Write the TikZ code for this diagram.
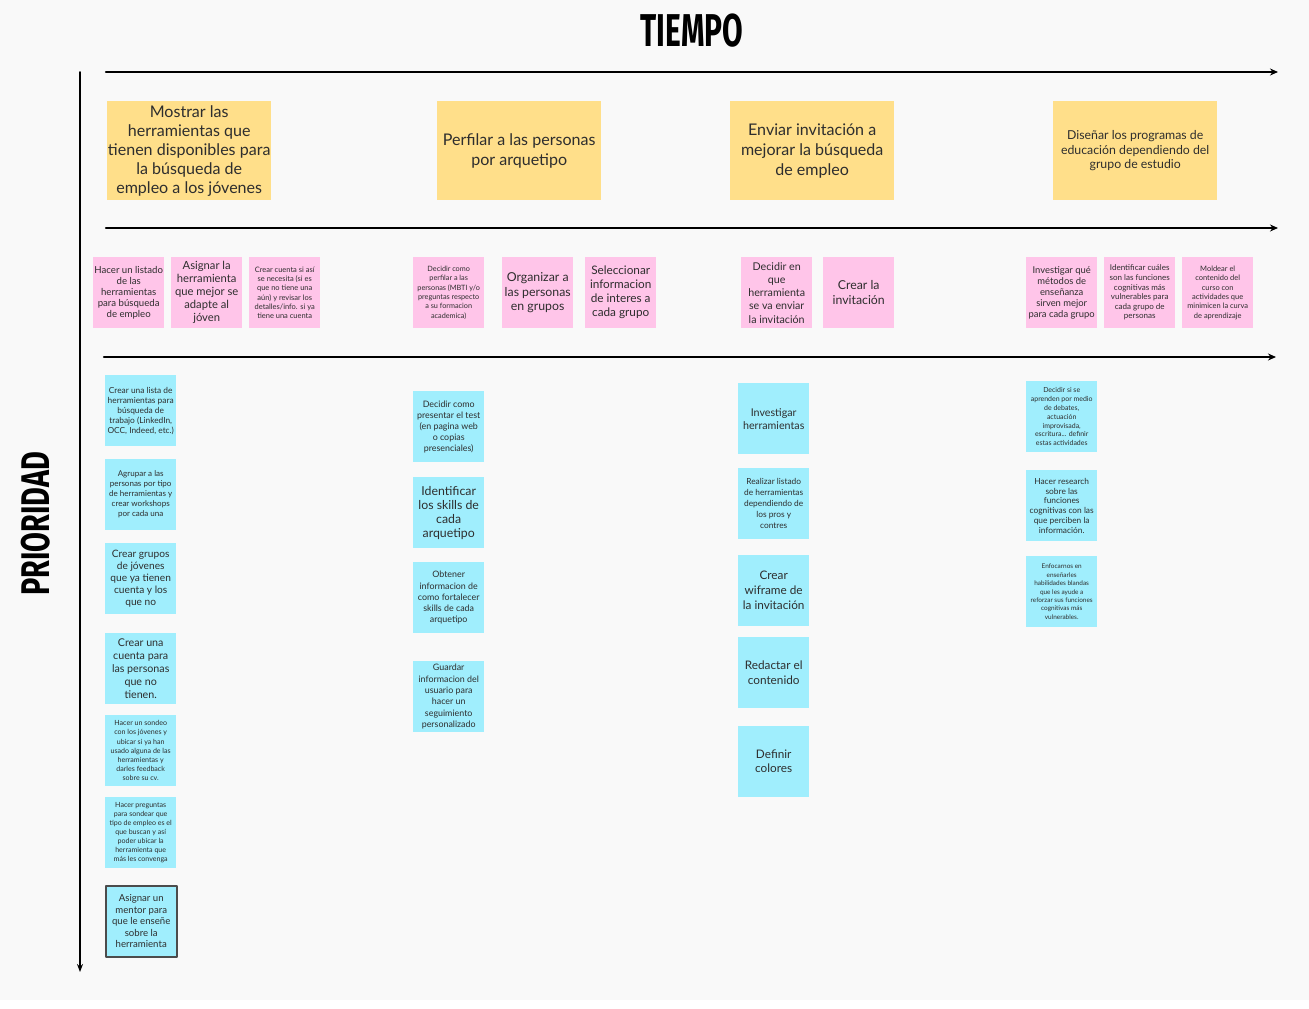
\documentclass[tikz,border=0pt]{standalone}
\usepackage{fontspec}
\setmainfont{Lato}[Scale=1.07]
\newfontfamily\titlefont{Fira Sans}
\usepackage{tikz}
\usetikzlibrary{positioning,calc,arrows.meta}

\definecolor{bgGray}{HTML}{F9F9F9}
\definecolor{noteYellow}{HTML}{FFDF8A}
\definecolor{notePink}{HTML}{FFC5E9}
\definecolor{noteBlue}{HTML}{A0EEFD}
\definecolor{txtGray}{HTML}{2E2E2E}

\begin{document}
\begin{tikzpicture}[
	x=1pt,y=-1pt,
	>=Stealth,
	line cap=round,line join=round,
	note/.style={inner sep=0pt, anchor=north west, align=center, text=txtGray,
		minimum width=71pt, minimum height=71pt},
	yNote/.style={note, fill=noteYellow, minimum width=164pt, minimum height=99pt},
	pNote/.style={note, fill=notePink},
	bNote/.style={note, fill=noteBlue},
	sz/.style 2 args={font=\fontsize{#1}{#2}\selectfont},
	axis/.style={->, line width=2.2pt, >={Stealth[length=8pt,width=7pt]}}
	]
	%----- page
	\useasboundingbox (0,0) rectangle (1309,1009);
	\fill[bgGray] (0,0) rectangle (1309,1000);
	
	%----- labels
	\node[font=\titlefont\bfseries\fontsize{46}{46}\selectfont] (tiempoLbl) at (692,31) {\scalebox{0.65}[1]{TIEMPO}};
	\node[font=\titlefont\bfseries\fontsize{40}{40}\selectfont, rotate=90] (prioLbl) at (36,524) {\scalebox{0.72}[1]{PRIORIDAD}};
	
	%----- axes
	\coordinate (t1s) at (106,72);  \coordinate (t1e) at (1278,72);
	\coordinate (t2s) at (106,228); \coordinate (t2e) at (1278,228);
	\coordinate (t3s) at (104,357); \coordinate (t3e) at (1276,357);
	\coordinate (pS)  at (80,72);   \coordinate (pE)  at (80,972);
	\draw[axis] (t1s) -- (t1e);
	\draw[axis] (t2s) -- (t2e);
	\draw[axis] (t3s) -- (t3e);
	\draw[->, line width=1.8pt, >={Stealth[length=8pt,width=6pt]}] (pS) -- (pE);
	
	%----- yellow row (goals)
	\node[yNote, sz={15}{19}] (y1) at (107,101) {Mostrar las\\herramientas que\\tienen disponibles para\\la búsqueda de\\empleo a los jóvenes};
	\node[yNote, sz={15}{20}] (y2) at (437,101) {Perfilar a las personas\\por arquetipo};
	\node[yNote, sz={15}{20}] (y3) at (730,101) {Enviar invitación a\\mejorar la búsqueda\\de empleo};
	\node[yNote, sz={11.5}{14.5}] (y4) at (1053,101) {Diseñar los programas de\\educación dependiendo del\\grupo de estudio};
	
	%----- pink row (tasks)
	\node[pNote, sz={9}{11}] (pA) at (93,257) {Hacer un listado\\de las\\herramientas\\para búsqueda\\de empleo};
	\node[pNote, sz={10.5}{13}] (pB) at (171,257) {Asignar la\\herramienta\\que mejor se\\adapte al\\jóven};
	\node[pNote, sz={7}{9.2}] (pC) at (249,257) {Crear cuenta si así\\se necesita (si es\\que no tiene una\\aún) y revisar los\\detalles/info. si ya\\tiene una cuenta};
	\node[pNote, sz={6.8}{9.4}] (pD) at (413,257) {Decidir como\\perfilar a las\\personas (MBTI y/o\\preguntas respecto\\a su formacion\\academica)};
	\node[pNote, sz={11.5}{14.5}] (pE) at (502,257) {Organizar a\\las personas\\en grupos};
	\node[pNote, sz={11}{14}] (pF) at (585,257) {Seleccionar\\informacion\\de interes a\\cada grupo};
	\node[pNote, sz={10}{13.2}] (pG) at (741,257) {Decidir en\\que\\herramienta\\se va enviar\\la invitación};
	\node[pNote, sz={11.5}{15}] (pH) at (823,257) {Crear la\\invitación};
	\node[pNote, sz={8.8}{11}] (pI) at (1026,257) {Investigar qué\\métodos de\\enseñanza\\sirven mejor\\para cada grupo};
	\node[pNote, sz={7.5}{9.6}] (pJ) at (1104,257) {Identificar cuáles\\son las funciones\\cognitivas más\\vulnerables para\\cada grupo de\\personas};
	\node[pNote, sz={7}{9.4}] (pK) at (1182,257) {Moldear el\\contenido del\\curso con\\actividades que\\minimicen la curva\\de aprendizaje};
	
	%----- blue column 1
	\node[bNote, sz={7.8}{10}] (b11) at (105,375) {Crear una lista de\\herramientas para\\búsqueda de\\trabajo (LinkedIn,\\OCC, Indeed, etc.)};
	\node[bNote, sz={7.5}{10}] (b12) at (105,459) {Agrupar a las\\personas por tipo\\de herramientas y\\crear workshops\\por cada una};
	\node[bNote, sz={9.5}{12}] (b13) at (105,543) {Crear grupos\\de jóvenes\\que ya tienen\\cuenta y los\\que no};
	\node[bNote, sz={10}{13}] (b14) at (105,633) {Crear una\\cuenta para\\las personas\\que no\\tienen.};
	\node[bNote, sz={6.6}{9.2}] (b15) at (105,715) {Hacer un sondeo\\con los jóvenes y\\ubicar si ya han\\usado alguna de las\\herramientas y\\darles feedback\\sobre su cv.};
	\node[bNote, sz={6.6}{9}] (b16) at (105,797) {Hacer preguntas\\para sondear que\\tipo de empleo es el\\que buscan y así\\poder ubicar la\\herramienta que\\más les convenga};
	\node[bNote, sz={9}{11.5}, draw=black!70, line width=1.5pt] (b17) at (105,885) {Asignar un\\mentor para\\que le enseñe\\sobre la\\herramienta};
	
	%----- blue column 2
	\node[bNote, sz={8.3}{11}] (b21) at (413,391) {Decidir como\\presentar el test\\(en pagina web\\o copias\\presenciales)};
	\node[bNote, sz={11.5}{14}] (b22) at (413,477) {Identificar\\los skills de\\cada\\arquetipo};
	\node[bNote, sz={8.3}{11.2}] (b23) at (413,562) {Obtener\\informacion de\\como fortalecer\\skills de cada\\arquetipo};
	\node[bNote, sz={8.3}{11.3}] (b24) at (413,661) {Guardar\\informacion del\\usuario para\\hacer un\\seguimiento\\personalizado};
	
	%----- blue column 3
	\node[bNote, sz={10}{13}] (b31) at (738,383) {Investigar\\herramientas};
	\node[bNote, sz={7.8}{11}] (b32) at (738,468) {Realizar listado\\de herramientas\\dependiendo de\\los pros y\\contres};
	\node[bNote, sz={11}{15}] (b33) at (738,555) {Crear\\wiframe de\\la invitación};
	\node[bNote, sz={11}{15}] (b34) at (738,637) {Redactar el\\contenido};
	\node[bNote, sz={11}{14}] (b35) at (738,726) {Definir\\colores};
	
	%----- blue column 4
	\node[bNote, sz={6.5}{8.8}] (b41) at (1026,381) {Decidir si se\\aprenden por medio\\de debates,\\actuación\\improvisada,\\escritura... definir\\estas actividades};
	\node[bNote, sz={7.8}{9.8}] (b42) at (1026,470) {Hacer research\\sobre las\\funciones\\cognitivas con las\\que perciben la\\información.};
	\node[bNote, sz={6}{8.4}] (b43) at (1026,556) {Enfocarnos en\\enseñarles\\habilidades blandas\\que les ayude a\\reforzar sus funciones\\cognitivas más\\vulnerables.};
	
\end{tikzpicture}
\end{document}
